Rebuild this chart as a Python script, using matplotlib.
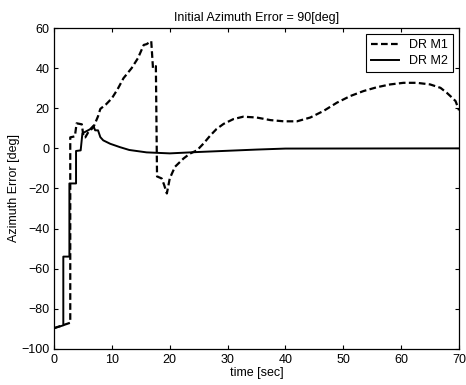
import numpy as np
import matplotlib
matplotlib.use("Agg")
import matplotlib.pyplot as plt

plt.rcParams['font.family'] = ['Liberation Sans', 'DejaVu Sans']

# DR M1 (dashed) - time [sec], azimuth error [deg]
t_m1 = [0, 2.8, 2.8, 3.6, 3.9, 4.8, 5.1, 5.4, 5.9, 6.8, 7.6, 8.0, 9.0, 10.0,
        11.0, 12.0, 13.4, 14.5, 15.5, 16.0, 16.8, 17.1, 17.6, 17.8, 18.6,
        19.0, 19.5, 20.0, 20.9, 22.4, 23.5, 24.7, 25.8, 27.0, 28.1, 29.3,
        31.0, 32.7, 35.0, 37.4, 39.7, 42.0, 44.3, 46.6, 48.9, 51.2, 53.5,
        55.8, 58.1, 60.4, 62.7, 65.0, 66.8, 67.9, 68.8, 69.4, 70.0]
az_m1 = [-89.7, -87, 5.5, 6, 12.5, 12, 5.5, 5.5, 8, 10.5, 16, 19.7, 22, 25,
         29.6, 35, 40, 45, 51.6, 52, 53.5, 40, 41, -14, -15,
         -18, -22.5, -15, -9.2, -5, -2.6, -1, 2.3, 6.4, 9.7, 12.2,
         14.6, 15.8, 15.4, 14.1, 13.5, 13.5, 15.4, 18.7, 22.8, 26.1, 28.6,
         30.5, 31.9, 32.7, 32.7, 31.9, 30.2, 27.7, 25.3, 23.6, 19]

# DR M2 (solid)
t_m2 = [0, 1.6, 1.6, 2.65, 2.65, 3.8, 3.8, 4.6, 4.9, 6.2, 6.8, 7.1, 7.6,
        8.0, 8.5, 9.7, 11.4, 13.0, 16.0, 20.0, 25.0, 30.0, 35.0, 40.0, 70.0]
az_m2 = [-89.7, -88.3, -54, -54, -17.5, -17.5, -1.3, -1, 7.5, 9.5, 11.3, 9,
         9, 5.6, 4, 2.3, 0.6, -0.8, -2, -2.5, -1.8, -1.2, -0.6, -0.1, 0]

fig = plt.figure(figsize=(4.66, 3.85), dpi=100)
ax = fig.add_axes([0.116, 0.094, 0.869, 0.833])

ax.plot(t_m1, az_m1, color='black', linestyle=(0, (3, 1.5)), linewidth=1.6, label='DR M1')
ax.plot(t_m2, az_m2, color='black', linestyle='-', linewidth=1.4, label='DR M2')

ax.set_xlim(0, 70)
ax.set_ylim(-100, 60)
ax.set_xticks(np.arange(0, 71, 10))
ax.set_yticks(np.arange(-100, 61, 20))
ax.tick_params(direction='in', top=True, right=True, labelsize=9, length=3)
for s in ax.spines.values():
    s.set_linewidth(0.9)

ax.set_title('Initial Azimuth Error = 90[deg]', fontsize=9, pad=5)
ax.set_xlabel('time [sec]', fontsize=9, labelpad=1)
ax.set_ylabel('Azimuth Error [deg]', fontsize=9, labelpad=1)

leg = ax.legend(loc='upper right', fontsize=9, fancybox=False, framealpha=1,
                edgecolor='black', handlelength=2.2, borderaxespad=0.5,
                labelspacing=0.3, borderpad=0.4)
leg.get_frame().set_linewidth(0.8)

fig.savefig('out.png', dpi=100)
